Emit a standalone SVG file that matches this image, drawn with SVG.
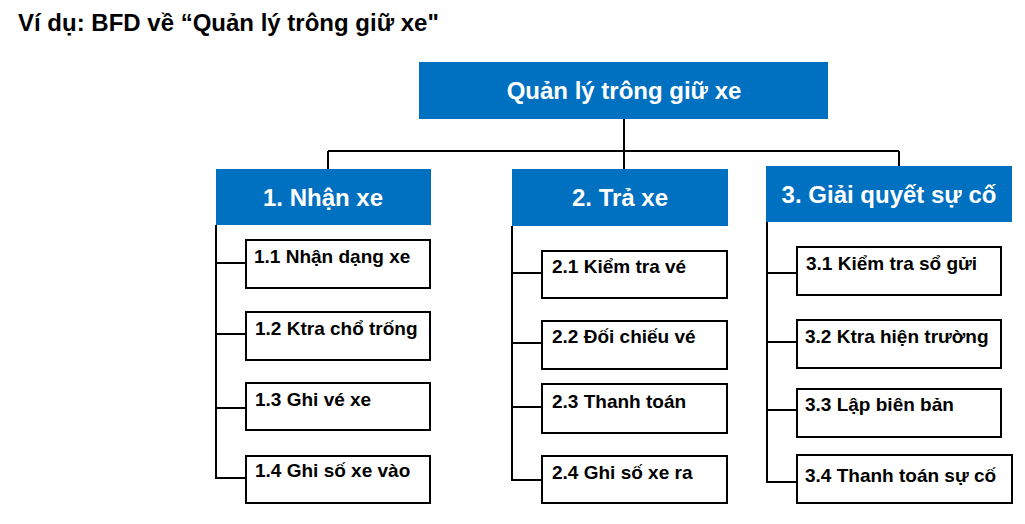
<svg xmlns="http://www.w3.org/2000/svg" width="1025" height="524" viewBox="0 0 1025 524">
<style>
.t{font-family:"Liberation Sans",Arial,sans-serif;font-weight:bold}
.title{font-size:24px;fill:#000}
.hb{fill:#0070C0}
.ht{font-size:24px;fill:#fff;text-anchor:middle}
.sb{fill:#fff;stroke:#000;stroke-width:2}
.st{font-size:19px;fill:#000}
.c{stroke:#000;stroke-width:2;fill:none}
</style>
<rect width="1025" height="524" fill="#fff"/>
<text class="t title" x="18" y="31">Ví dụ: BFD về “Quản lý trông giữ xe"</text>
<g id="connectors">
<path class="c" d="M624 119V170M328 151H899M328 151V169M899 151V166"/>
<path class="c" d="M216 225V479M216 263H246M216 334H246M216 408H246M216 478H246"/>
<path class="c" d="M512 226V481M512 273H542M512 343H542M512 407H542M512 480H542"/>
<path class="c" d="M767 222V483M767 273H797M767 342H797M767 410H797M767 482H797"/>
</g>
<g id="root"><rect class="hb" x="419" y="62" width="409" height="57"/><text class="t ht" x="624" y="99">Quản lý trông giữ xe</text></g>
<g id="n1"><rect class="hb" x="216" y="169" width="215" height="56"/><text class="t ht" x="323" y="206">1. Nhận xe</text></g>
<g id="n2"><rect class="hb" x="512" y="169" width="216" height="57"/><text class="t ht" x="620" y="206">2. Trả xe</text></g>
<g id="n3"><rect class="hb" x="766" y="166" width="246" height="56"/><text class="t ht" x="889" y="203">3. Giải quyết sự cố</text></g>
<g id="n11"><rect class="sb" x="246" y="240" width="184" height="48"/><text class="t st" x="254" y="263">1.1 Nhận dạng xe</text></g>
<g id="n12"><rect class="sb" x="246" y="312" width="184" height="48"/><text class="t st" x="255" y="335">1.2 Ktra chổ trống</text></g>
<g id="n13"><rect class="sb" x="246" y="383" width="184" height="47"/><text class="t st" x="255" y="406">1.3 Ghi vé xe</text></g>
<g id="n14"><rect class="sb" x="246" y="456" width="184" height="47"/><text class="t st" x="255" y="477">1.4 Ghi số xe vào</text></g>
<g id="n21"><rect class="sb" x="542" y="251" width="185" height="47"/><text class="t st" x="552" y="273">2.1 Kiểm tra vé</text></g>
<g id="n22"><rect class="sb" x="542" y="321" width="185" height="48"/><text class="t st" x="552" y="343">2.2 Đối chiếu vé</text></g>
<g id="n23"><rect class="sb" x="542" y="384" width="185" height="49"/><text class="t st" x="552" y="408">2.3 Thanh toán</text></g>
<g id="n24"><rect class="sb" x="542" y="456" width="185" height="47"/><text class="t st" x="552" y="479">2.4 Ghi số xe ra</text></g>
<g id="n31"><rect class="sb" x="797" y="247" width="204" height="48"/><text class="t st" x="806" y="270">3.1 Kiểm tra sổ gửi</text></g>
<g id="n32"><rect class="sb" x="797" y="320" width="204" height="48"/><text class="t st" x="805" y="343">3.2 Ktra hiện trường</text></g>
<g id="n33"><rect class="sb" x="797" y="389" width="204" height="48"/><text class="t st" x="805" y="411">3.3 Lập biên bản</text></g>
<g id="n34"><rect class="sb" x="797" y="455" width="215" height="48"/><text class="t st" x="805" y="482">3.4 Thanh toán sự cố</text></g>
</svg>
